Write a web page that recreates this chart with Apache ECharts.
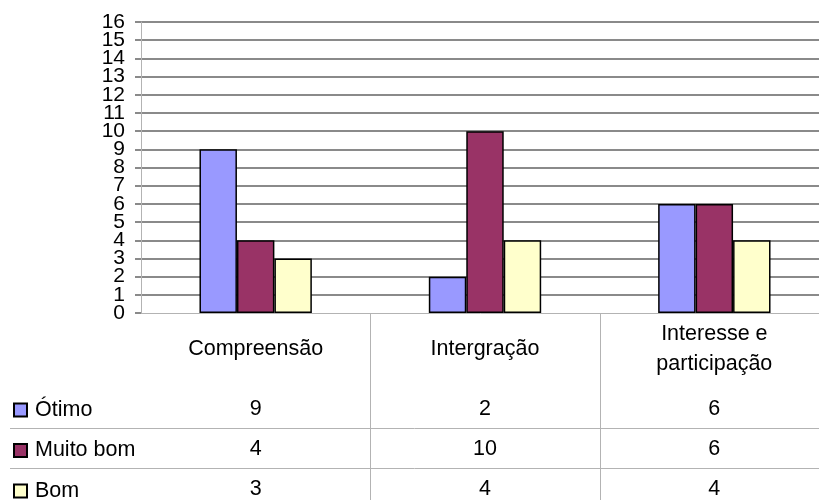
<!DOCTYPE html>
<html>
<head>
<meta charset="utf-8">
<script src="https://cdn.jsdelivr.net/npm/echarts@6/dist/echarts.min.js"></script>
<style>
  html, body { margin: 0; padding: 0; background: #fff; }
  #chart { width: 819px; height: 500px; }
</style>
</head>
<body>
<div id="chart"></div>
<script>
// Evaluation counts per criterion
const categories = ['Compreensão', 'Intergração', 'Interesse e\nparticipação'];
const seriesNames = ['Ótimo', 'Muito bom', 'Bom'];
const otimo = [9, 2, 6];
const muitoBom = [4, 10, 6];
const bom = [3, 4, 4];
const yMin = 0, yMax = 16, yStep = 1;

const colors = ['#9999ff', '#993366', '#ffffcc'];
const rows = [otimo, muitoBom, bom];
const FONT = '"Liberation Sans", Arial, sans-serif';
const FS = 21.5;

// Offsets (below the zero line) of the data-table rows
const rowOffsets = [96, 136, 176];
const rowRuleOffsets = [115, 155];

const chart = echarts.init(document.getElementById('chart'), null, { renderer: 'canvas' });

const barSeries = seriesNames.map((name, k) => ({
  name,
  type: 'bar',
  data: rows[k],
  barGap: '0%',
  barCategoryGap: '51%',
  itemStyle: { color: colors[k], borderColor: '#000', borderWidth: 1.5 },
  z: 3
}));

const tableSeries = {
  type: 'custom',
  silent: true,
  clip: false,
  z: 1,
  data: categories.map((_, i) => [i, 0]),
  encode: { x: 0, y: 1 },
  renderItem(params, api) {
    const i = api.value(0);
    const c = api.coord([i, 0]);
    const band = api.size([1, 0])[0];
    const W = api.getWidth(), H = api.getHeight();
    const children = [];
    rows.forEach((vals, k) => {
      children.push({
        type: 'text',
        style: {
          text: String(vals[i]), x: c[0], y: c[1] + rowOffsets[k],
          align: 'center', verticalAlign: 'middle',
          font: FS + 'px ' + FONT, fill: '#000'
        }
      });
    });
    if (i < categories.length - 1) {
      const x = Math.round(c[0] + band / 2) + 0.5;
      children.push({
        type: 'line',
        shape: { x1: x, y1: c[1], x2: x, y2: H },
        style: { stroke: '#b3b3b3', lineWidth: 1 }
      });
    }
    if (i === 0) {
      rowRuleOffsets.forEach(off => {
        const y = Math.round(c[1] + off) + 0.5;
        children.push({
          type: 'line',
          shape: { x1: 10, y1: y, x2: W, y2: y },
          style: { stroke: '#b3b3b3', lineWidth: 1 }
        });
      });
    }
    return { type: 'group', children };
  }
};

const tickStyle = { color: '#8a8a8a', width: 2 };
const labelBase = { fontSize: 21, color: '#000', fontFamily: FONT, margin: 16 };

chart.setOption({
  animation: false,
  backgroundColor: '#fff',
  textStyle: { fontFamily: FONT },
  grid: { left: 141, top: 22, width: 688, height: 291, outerBoundsMode: 'none', containLabel: false },
  legend: {
    data: seriesNames,
    orient: 'vertical',
    left: 13,
    top: 399,
    height: 150,
    padding: 0,
    itemGap: 18.5,
    itemWidth: 13,
    itemHeight: 13,
    icon: 'rect',
    textStyle: { fontSize: FS, color: '#000', fontFamily: FONT, padding: [0, 0, 0, 3] },
    selectedMode: false
  },
  xAxis: {
    type: 'category',
    data: categories,
    axisLine: { lineStyle: { color: '#b3b3b3', width: 1 } },
    axisTick: { show: false },
    axisLabel: {
      fontSize: FS, color: '#000', fontFamily: FONT,
      lineHeight: 30, margin: 36, verticalAlign: 'middle'
    },
    splitLine: { show: false }
  },
  yAxis: [
    {
      // even-numbered labels, axis line
      type: 'value',
      position: 'left',
      min: yMin, max: yMax, interval: yStep * 2,
      axisLine: { show: true, lineStyle: { color: '#b3b3b3', width: 1 } },
      axisTick: { show: true, length: 6, lineStyle: tickStyle },
      axisLabel: Object.assign({ showMinLabel: true, showMaxLabel: true }, labelBase),
      splitLine: { show: false }
    },
    {
      // odd-numbered labels, every grid line
      type: 'value',
      position: 'left',
      min: yMin, max: yMax, interval: yStep,
      axisLine: { show: false },
      axisTick: { show: true, length: 6, lineStyle: tickStyle },
      axisLabel: Object.assign({
        showMinLabel: false, showMaxLabel: false,
        formatter: v => (v % 2 ? String(v) : '')
      }, labelBase),
      splitLine: { show: true, showMinLine: false, lineStyle: { color: '#8a8a8a', width: 2 } }
    }
  ],
  series: [tableSeries, ...barSeries]
});
</script>
</body>
</html>
